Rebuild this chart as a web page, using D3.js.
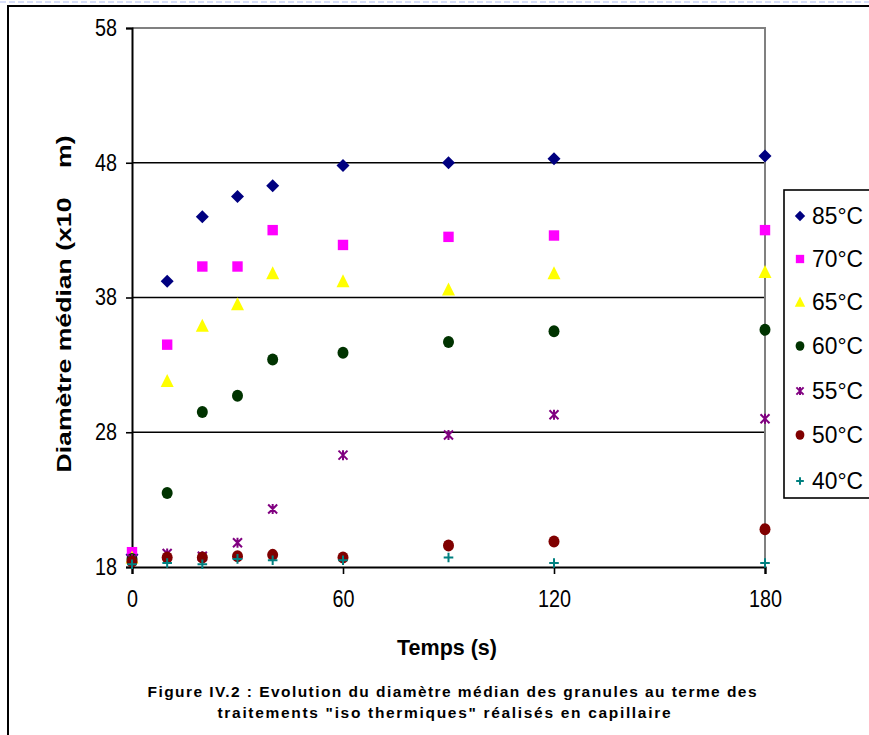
<!DOCTYPE html>
<html>
<head>
<meta charset="utf-8">
<script src="https://cdn.jsdelivr.net/npm/d3@7"></script>
<style>
  html, body { margin: 0; padding: 0; background: #fff; }
  svg { display: block; }
</style>
</head>
<body>
<svg id="chart" width="869" height="735"></svg>
<script>
// Sampling times (s)
const times = [0, 10, 20, 30, 40, 60, 90, 120, 180];

// Median granule diameter for each isothermal treatment
const s85 = [18.9, 39.2, 44.0, 45.5, 46.3, 47.8, 48.0, 48.3, 48.5];
const s70 = [19.1, 34.5, 40.3, 40.3, 43.0, 41.9, 42.5, 42.6, 43.0];
const s65 = [18.7, 31.8, 35.9, 37.5, 39.8, 39.2, 38.6, 39.8, 39.9];
const s60 = [18.6, 23.5, 29.5, 30.7, 33.4, 33.9, 34.7, 35.5, 35.6];
const s55 = [18.6, 19.0, 18.8, 19.8, 22.3, 26.3, 27.8, 29.3, 29.0];
const s50 = [18.4, 18.7, 18.7, 18.8, 18.9, 18.7, 19.6, 19.9, 20.8];
const s40 = [18.2, 18.3, 18.2, 18.6, 18.5, 18.5, 18.7, 18.3, 18.3];

const seriesNames = ["85°C", "70°C", "65°C", "60°C", "55°C", "50°C", "40°C"];
const seriesValues = [s85, s70, s65, s60, s55, s50, s40];

const xTicks = [0, 60, 120, 180];
const yTicks = [18, 28, 38, 48, 58];

const styles = [
  { shape: "diamond",  color: "#000080" },
  { shape: "square",   color: "#ff00ff" },
  { shape: "triangle", color: "#ffff00" },
  { shape: "circle",   color: "#003300" },
  { shape: "star",     color: "#800080" },
  { shape: "circle",   color: "#800000" },
  { shape: "plus",     color: "#008080" }
];

const svg = d3.select("#chart");
const font = "Arial, 'Liberation Sans', sans-serif";

// page frame
svg.append("line").attr("x1", 0).attr("x2", 869).attr("y1", 2).attr("y2", 2)
  .attr("stroke", "#aebdf2").attr("stroke-width", 1).attr("stroke-dasharray", "6,3");
svg.append("path").attr("d", "M8,735 V6 H869")
  .attr("fill", "none").attr("stroke", "#000").attr("stroke-width", 2);

const plot = { left: 132, right: 765, top: 28, bottom: 567 };

const x = d3.scaleLinear().domain([0, 180]).range([plot.left, plot.right]);
const y = d3.scaleLinear().domain([18, 58]).range([plot.bottom, plot.top]);

// horizontal gridlines
svg.append("g").selectAll("line").data([28, 38, 48]).join("line")
  .attr("x1", plot.left).attr("x2", plot.right)
  .attr("y1", d => y(d)).attr("y2", d => y(d))
  .attr("stroke", "#000").attr("stroke-width", 1.6);

// grey top and right borders of the plot area
svg.append("path")
  .attr("d", `M${plot.left},${y(58)} H${plot.right} V${plot.bottom}`)
  .attr("fill", "none").attr("stroke", "#808080").attr("stroke-width", 2);

// slightly condensed tick numbers
function styleTickText(sel) {
  sel.attr("font-family", font).attr("font-size", 23).attr("fill", "#000")
    .attr("lengthAdjust", "spacingAndGlyphs")
    .attr("textLength", function () { return this.textContent.length * 11; });
}

// axes
const yAxis = d3.axisLeft(y).tickValues(yTicks).tickSize(6).tickPadding(9);
const gy = svg.append("g").attr("transform", `translate(${plot.left},0)`).call(yAxis);
gy.select(".domain").attr("stroke", "#000").attr("stroke-width", 2);
gy.selectAll(".tick line").attr("stroke", "#000").attr("stroke-width", 1.6);
gy.selectAll(".tick text").call(styleTickText);

const xAxis = d3.axisBottom(x).tickValues(xTicks).tickSize(7).tickPadding(17);
const gx = svg.append("g").attr("transform", `translate(0,${plot.bottom})`).call(xAxis);
gx.select(".domain").attr("stroke", "#000").attr("stroke-width", 2.2);
gx.selectAll(".tick line").attr("stroke", "#000").attr("stroke-width", 1.6);
gx.selectAll(".tick text").call(styleTickText);

// axis titles
svg.append("text").attr("x", 447).attr("y", 655).attr("text-anchor", "middle")
  .attr("font-family", font).attr("font-weight", "bold").attr("font-size", 22)
  .attr("textLength", 100).attr("lengthAdjust", "spacingAndGlyphs")
  .text("Temps (s)");
svg.append("text").attr("transform", "translate(71,304) rotate(-90)")
  .attr("text-anchor", "middle").attr("font-family", font)
  .attr("font-weight", "bold").attr("font-size", 21).attr("xml:space", "preserve")
  .attr("textLength", 337).attr("lengthAdjust", "spacingAndGlyphs")
  .text("Diamètre médian (x10    m)");

// marker drawing
function drawMarker(g, shape, color, cx, cy, s) {
  const k = s || 1;
  if (shape === "diamond") {
    const r = 6.5 * k;
    g.append("path").attr("d", `M${cx},${cy - r} L${cx + r},${cy} L${cx},${cy + r} L${cx - r},${cy} Z`).attr("fill", color);
  } else if (shape === "square") {
    const h = 5.2 * k;
    g.append("rect").attr("x", cx - h).attr("y", cy - h).attr("width", 2 * h).attr("height", 2 * h).attr("fill", color);
  } else if (shape === "triangle") {
    const w = 6.5 * k, t = 7 * k, b = 6 * k;
    g.append("path").attr("d", `M${cx},${cy - t} L${cx + w},${cy + b} L${cx - w},${cy + b} Z`).attr("fill", color);
  } else if (shape === "circle") {
    g.append("ellipse").attr("cx", cx).attr("cy", cy).attr("rx", 5.5 * k).attr("ry", 6 * k).attr("fill", color);
  } else if (shape === "star") {
    const r = 4.5 * k;
    g.append("path")
      .attr("d", `M${cx - r},${cy - r} L${cx + r},${cy + r} M${cx + r},${cy - r} L${cx - r},${cy + r} M${cx},${cy - r - 0.5} L${cx},${cy + r + 0.5}`)
      .attr("stroke", color).attr("stroke-width", 2).attr("fill", "none");
  } else if (shape === "plus") {
    const r = 4.8 * k;
    g.append("path")
      .attr("d", `M${cx - r},${cy} H${cx + r} M${cx},${cy - r} V${cy + r}`)
      .attr("stroke", color).attr("stroke-width", 2).attr("fill", "none");
  }
}

// data points
const marks = svg.append("g");
seriesValues.forEach((vals, i) => {
  const g = marks.append("g").attr("class", "series");
  vals.forEach((v, j) => drawMarker(g, styles[i].shape, styles[i].color, x(times[j]), y(v), 1));
});

// legend
const legend = svg.append("g");
legend.append("rect").attr("x", 784).attr("y", 190).attr("width", 100).attr("height", 308)
  .attr("fill", "#fff").attr("stroke", "#000").attr("stroke-width", 1.6);
const legendY = [216, 259, 302, 346, 391, 435, 481];
seriesNames.forEach((name, i) => {
  drawMarker(legend, styles[i].shape, styles[i].color, 800, legendY[i], 0.8);
  legend.append("text").attr("x", 812).attr("y", legendY[i]).attr("dy", "0.36em")
    .attr("font-family", font).attr("font-size", 23)
    .attr("textLength", 51).attr("lengthAdjust", "spacingAndGlyphs").text(name);
});

// caption
const cap = svg.append("g").attr("font-family", font)
  .attr("font-weight", "bold").attr("font-size", 15.5).attr("text-anchor", "middle");
cap.append("text").attr("x", 452).attr("y", 697).attr("textLength", 609).attr("lengthAdjust", "spacing")
  .text("Figure IV.2 : Evolution du diamètre médian des granules au terme des");
cap.append("text").attr("x", 444).attr("y", 718).attr("textLength", 453).attr("lengthAdjust", "spacing")
  .text("traitements \"iso thermiques\" réalisés en capillaire");
</script>
</body>
</html>
